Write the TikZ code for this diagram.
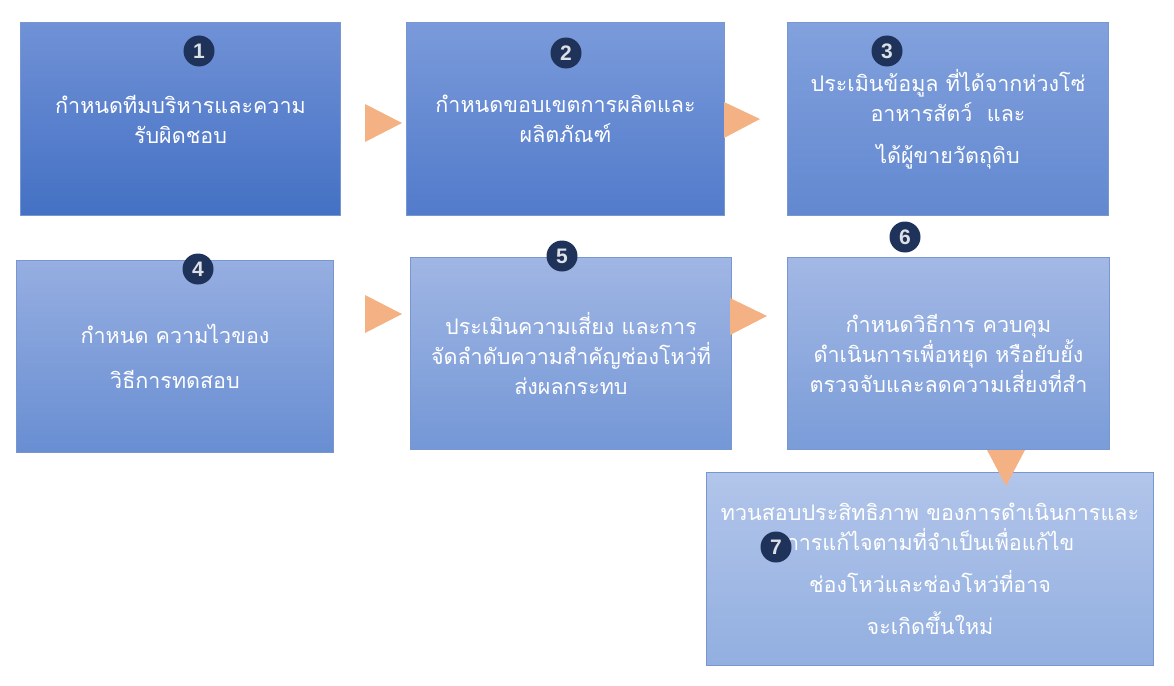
\documentclass[tikz,border=0pt]{standalone}
\usepackage{fontspec}
\setmainfont{Liberation Sans}
\newfontfamily\thaifont[Script=Thai]{Loma}
\usetikzlibrary{shapes.geometric}
\definecolor{bAt}{RGB}{112,145,214}\definecolor{bAb}{RGB}{68,113,196}
\definecolor{bBt}{RGB}{122,154,218}\definecolor{bBb}{RGB}{82,123,203}
\definecolor{bCt}{RGB}{130,161,221}\definecolor{bCb}{RGB}{98,136,208}
\definecolor{bDt}{RGB}{150,174,225}\definecolor{bDb}{RGB}{104,142,210}
\definecolor{bEt}{RGB}{160,182,228}\definecolor{bEb}{RGB}{116,151,214}
\definecolor{bFt}{RGB}{163,184,229}\definecolor{bFb}{RGB}{122,156,216}
\definecolor{bGt}{RGB}{178,197,234}\definecolor{bGb}{RGB}{146,175,224}
\definecolor{edge}{RGB}{120,150,210}
\definecolor{navy}{RGB}{31,50,90}
\definecolor{chev}{RGB}{244,177,131}
\tikzset{
  box/.style={rectangle, anchor=north west, inner sep=0pt, draw=edge, line width=1pt,
    text=white, align=center, font=\thaifont\fontsize{21.5}{30}\selectfont},
  num/.style={circle, fill=navy, text=white!85!navy, inner sep=0pt, minimum size=31pt,
    font=\fontsize{21}{21}\selectfont\bfseries},
  chevron/.style={fill=chev, draw=none}
}
\begin{document}
\begin{tikzpicture}[x=1pt,y=-1pt]
\useasboundingbox (0,0) rectangle (1174,685);
% boxes
\node[box, top color=bAt, bottom color=bAb, minimum width=320pt, minimum height=193pt] (b1) at (20,22)
  {กำหนดทีมบริหารและความ\\รับผิดชอบ};
\node[box, top color=bBt, bottom color=bBb, minimum width=318pt, minimum height=193pt] (b2) at (406,22)
  {กำหนดขอบเขตการผลิตและ\\ผลิตภัณฑ์};
\node[box, top color=bCt, bottom color=bCb, minimum width=321pt, minimum height=193pt] (b3) at (787,22)
  {ประเมินข้อมูล ที่ได้จากห่วงโซ่\\อาหารสัตว์~ และ\\[12pt]ได้ผู้ขายวัตถุดิบ};
\node[box, top color=bDt, bottom color=bDb, minimum width=317pt, minimum height=192pt] (b4) at (16,260)
  {กำหนด ความไวของ\\[15pt]วิธีการทดสอบ};
\node[box, top color=bEt, bottom color=bEb, minimum width=321pt, minimum height=192pt] (b5) at (410,257)
  {ประเมินความเสี่ยง และการ\\จัดลำดับความสำคัญช่องโหว่ที่\\ส่งผลกระทบ};
\node[box, top color=bFt, bottom color=bFb, minimum width=322pt, minimum height=192pt] (b6) at (787,257)
  {กำหนดวิธีการ ควบคุม\\ดำเนินการเพื่อหยุด หรือยับยั้ง\\ตรวจจับและลดความเสี่ยงที่สำ};
\node[box, top color=bGt, bottom color=bGb, minimum width=447pt, minimum height=193pt] (b7) at (706,472)
  {ทวนสอบประสิทธิภาพ ของการดำเนินการและ\\การแก้ไจตามที่จำเป็นเพื่อแก้ไข\\[12pt]ช่องโหว่และช่องโหว่ที่อาจ\\[12pt]จะเกิดขึ้นใหม่};
% chevrons
\fill[chevron] (365,104) -- (402,123) -- (365,142) -- cycle;
\fill[chevron] (724,102) -- (760,119) -- (724,138) -- cycle;
\fill[chevron] (365,295) -- (402,314) -- (365,333) -- cycle;
\fill[chevron] (730,298) -- (767,316) -- (730,335) -- cycle;
\fill[chevron] (987,450) -- (1025,450) -- (1006,486) -- cycle;
% numbers
\node[num] (n1) at (199,51) {1};
\node[num] (n2) at (566,53) {2};
\node[num] (n3) at (887,51) {3};
\node[num] (n4) at (198,269) {4};
\node[num] (n5) at (562,256) {5};
\node[num] (n6) at (905,237) {6};
\node[num] (n7) at (776,547) {7};
\end{tikzpicture}
\end{document}
